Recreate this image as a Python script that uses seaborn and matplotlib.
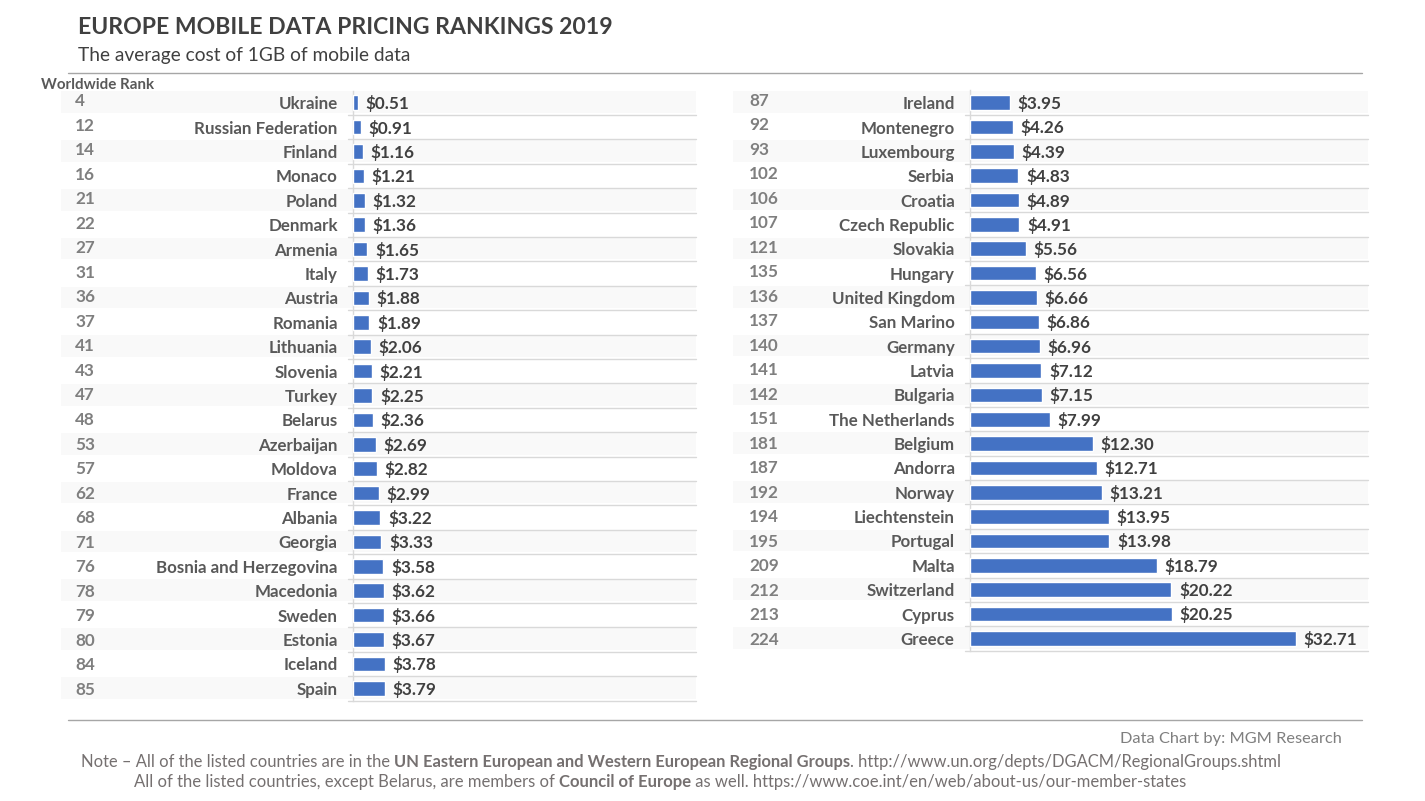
import matplotlib
matplotlib.use("Agg")
import matplotlib.pyplot as plt
import pandas as pd
import seaborn as sns

# === Data ===
left_countries = ["Ukraine", "Russian Federation", "Finland", "Monaco", "Poland", "Denmark", "Armenia", "Italy",
                  "Austria", "Romania", "Lithuania", "Slovenia", "Turkey", "Belarus", "Azerbaijan", "Moldova",
                  "France", "Albania", "Georgia", "Bosnia and Herzegovina", "Macedonia", "Sweden", "Estonia",
                  "Iceland", "Spain"]
left_ranks = [4, 12, 14, 16, 21, 22, 27, 31, 36, 37, 41, 43, 47, 48, 53, 57, 62, 68, 71, 76, 78, 79, 80, 84, 85]
left_prices = [0.51, 0.91, 1.16, 1.21, 1.32, 1.36, 1.65, 1.73, 1.88, 1.89, 2.06, 2.21, 2.25, 2.36, 2.69, 2.82,
               2.99, 3.22, 3.33, 3.58, 3.62, 3.66, 3.67, 3.78, 3.79]

right_countries = ["Ireland", "Montenegro", "Luxembourg", "Serbia", "Croatia", "Czech Republic", "Slovakia",
                   "Hungary", "United Kingdom", "San Marino", "Germany", "Latvia", "Bulgaria", "The Netherlands",
                   "Belgium", "Andorra", "Norway", "Liechtenstein", "Portugal", "Malta", "Switzerland", "Cyprus",
                   "Greece"]
right_ranks = [87, 92, 93, 102, 106, 107, 121, 135, 136, 137, 140, 141, 142, 151, 181, 187, 192, 194, 195, 209,
               212, 213, 224]
right_prices = [3.95, 4.26, 4.39, 4.83, 4.89, 4.91, 5.56, 6.56, 6.66, 6.86, 6.96, 7.12, 7.15, 7.99, 12.30, 12.71,
                13.21, 13.95, 13.98, 18.79, 20.22, 20.25, 32.71]

W, H = 1425, 801
BLUE = "#4472C4"
BAND = "#F9F9F9"
GRID = "#D9D9D9"
RULE = "#A6A6A6"

sns.set_theme(style="white")
plt.rcParams["font.family"] = ["Lato", "DejaVu Sans"]

fig = plt.figure(figsize=(W / 100, H / 100), dpi=100)


def panel(countries, ranks, prices, x0, x1, band_x0, rank_x, xmax, row_h):
    top = 90.5
    bottom = top + row_h * len(countries)
    ax = fig.add_axes([x0 / W, 1 - bottom / H, (x1 - x0) / W, (bottom - top) / H])
    df = pd.DataFrame({"country": countries, "price": prices})
    sns.barplot(data=df, x="price", y="country", color=BLUE, saturation=1, width=0.6, ax=ax, zorder=3)
    ax.set_xlim(-0.05, xmax)
    ax.set_ylim(len(countries) - 0.5, -0.5)
    ax.set_xlabel("")
    ax.set_ylabel("")
    ax.set_xticks([])
    ax.tick_params(axis="y", length=0, pad=11)
    for lab in ax.get_yticklabels():
        lab.set_fontsize(12.2)
        lab.set_fontweight("bold")
        lab.set_color("#595959")
    for s in ["top", "right", "bottom"]:
        ax.spines[s].set_visible(False)
    ax.spines["left"].set_color(GRID)
    ax.spines["left"].set_linewidth(1)
    labels = ax.bar_label(ax.containers[0], fmt="${:.2f}", padding=5.5, fontsize=12.3, fontweight="bold", color="#404040")
    for t in labels:
        t.xyann = (5.5, -0.7)

    width = x1 - x0
    for i, r in enumerate(ranks):
        if i % 2 == 0:
            ax.axhspan(i - 0.46, i + 0.42, xmin=(band_x0 - x0) / width, xmax=1, color=BAND, lw=0, clip_on=False, zorder=0)
        ax.axhline(i + 0.5, xmin=-5 / width, xmax=1, color=GRID, lw=1, clip_on=False, zorder=1)
        # rank column sits a little above the row and drifts down the list
        ax.text((rank_x - x0) / width, i + (-1.7 + 0.14 * i) / row_h, str(r), transform=ax.get_yaxis_transform(),
                ha="left", va="center", fontsize=12.3, fontweight="bold", color="#7F7F7F")
    return ax


panel(left_countries, left_ranks, left_prices, 353, 696, 61, 75, 40.8, 24.4)
panel(right_countries, right_ranks, right_prices, 970, 1368, 733, 749, 40.0, 24.35)


def text_px(x, y, s, **kw):
    return fig.text(x / W, 1 - y / H, s, va="center", **kw)


def mixed_line(x, y, parts, size, color):
    # lay normal and bold runs next to each other
    renderer = fig.canvas.get_renderer()
    for s, weight in parts:
        t = text_px(x, y, s, fontsize=size, fontweight=weight, color=color, ha="left")
        x += t.get_window_extent(renderer).width


text_px(78, 27, "EUROPE MOBILE DATA PRICING RANKINGS 2019", fontsize=16.6, fontweight="bold", color="#404040")
text_px(78, 56, "The average cost of 1GB of mobile data", fontsize=13.8, color="#404040")
text_px(41, 85, "Worldwide Rank", fontsize=10.9, fontweight="bold", color="#595959")

for y in [73, 720]:
    fig.add_artist(plt.Line2D([68 / W, 1362 / W], [1 - y / H, 1 - y / H], color=RULE, lw=1))

text_px(1342, 739, "Data Chart by: MGM Research", fontsize=11.75, color="#7F7F7F", ha="right")
mixed_line(81, 762, [("Note – All of the listed countries are in the ", "normal"),
                     ("UN Eastern European and Western European Regional Groups", "bold"),
                     (". http://www.un.org/depts/DGACM/RegionalGroups.shtml", "normal")], 11.9, "#757070")
mixed_line(134, 782, [("All of the listed countries, except Belarus, are members of ", "normal"),
                      ("Council of Europe", "bold"),
                      (" as well. https://www.coe.int/en/web/about-us/our-member-states", "normal")], 11.95, "#757070")

fig.savefig("out.png", dpi=100)
